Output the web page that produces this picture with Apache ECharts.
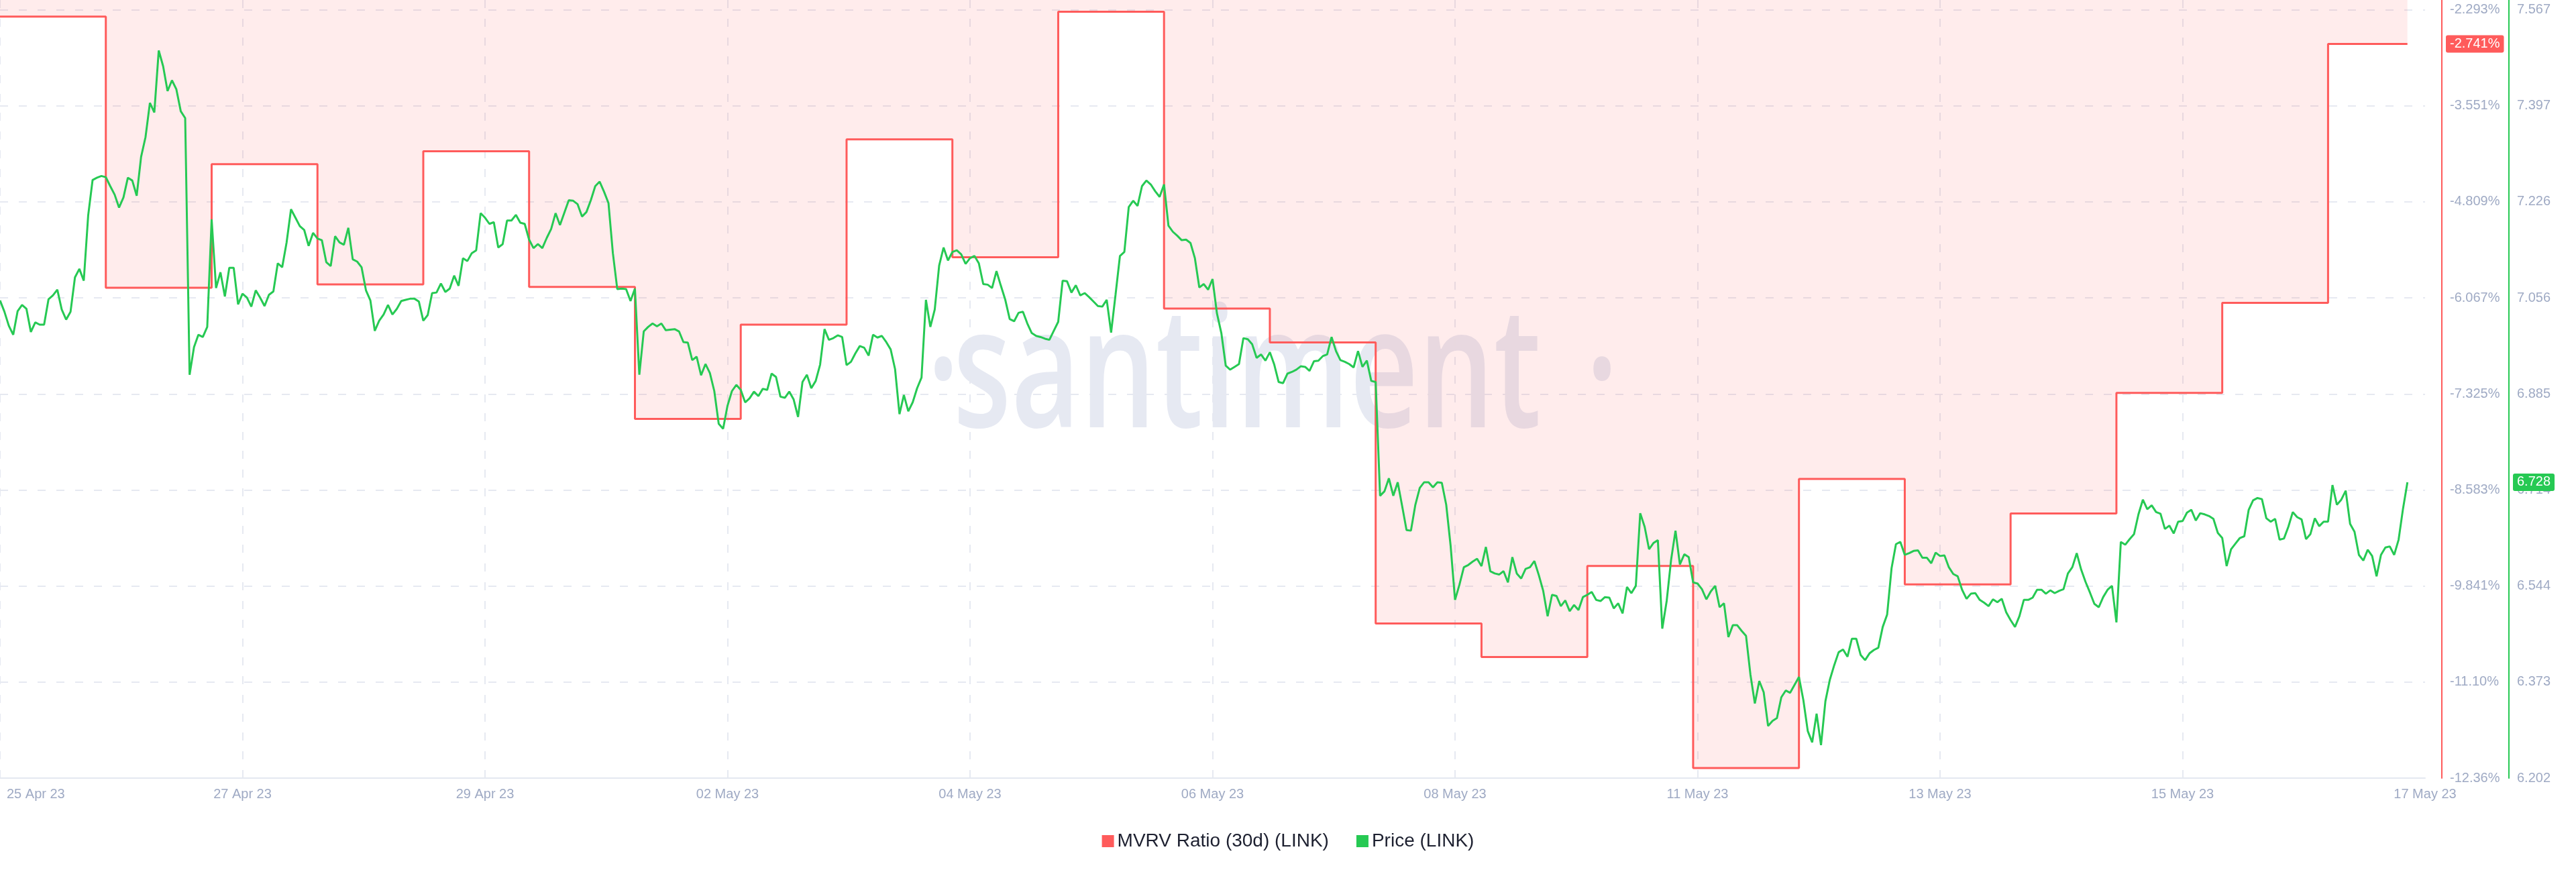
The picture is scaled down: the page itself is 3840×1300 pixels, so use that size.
<!DOCTYPE html>
<html>
<head>
<meta charset="utf-8">
<script src="https://cdn.jsdelivr.net/npm/echarts/dist/echarts.min.js"></script>
<style>
html,body{margin:0;padding:0;background:#ffffff;}
#chart{width:3840px;height:1300px;}
</style>
</head>
<body>
<div id="chart"></div>
<script>
// ---------- data ----------
// x axis: hours since series start; tick every 55 hours
const xTickLabels = ['25 Apr 23','27 Apr 23','29 Apr 23','02 May 23','04 May 23','06 May 23',
                     '08 May 23','11 May 23','13 May 23','15 May 23','17 May 23'];
const tickHours = 55;
const hoursPerDay = 24;

// MVRV Ratio (30d) (LINK), one value per day (percent)
const mvrvDaily = [-2.384, -5.935, -4.316, -5.890, -4.147, -5.923, -7.653, -6.418,
                   -3.990, -5.536, -2.319, -6.208, -6.650, -10.332, -10.771, -9.579,
                   -12.226, -8.439, -9.821, -8.891, -7.312, -6.132, -2.741];

// Price (LINK), hourly values (USD)
const priceLink = [
 7.051,7.031,7.006,6.990,7.032,7.043,7.036,6.995,7.012,7.008,
 7.008,7.053,7.060,7.070,7.035,7.017,7.031,7.092,7.107,7.086,
 7.202,7.265,7.269,7.272,7.270,7.254,7.239,7.216,7.234,7.269,
 7.264,7.237,7.306,7.341,7.402,7.385,7.495,7.467,7.423,7.442,
 7.426,7.387,7.375,6.919,6.968,6.990,6.986,7.004,7.195,7.073,
 7.101,7.058,7.109,7.109,7.044,7.063,7.056,7.040,7.069,7.056,
 7.041,7.061,7.067,7.117,7.110,7.154,7.213,7.198,7.183,7.176,
 7.148,7.171,7.161,7.158,7.119,7.112,7.165,7.154,7.150,7.180,
 7.124,7.120,7.110,7.069,7.051,6.997,7.015,7.026,7.043,7.026,
 7.036,7.050,
 7.052,7.054,7.054,7.049,7.015,7.025,7.064,7.065,7.081,7.066,
 7.072,7.095,7.077,7.126,7.121,7.135,7.140,7.206,7.198,7.187,
 7.190,7.145,7.151,7.193,7.193,7.203,7.189,7.187,7.159,7.144,
 7.151,7.144,7.162,7.178,7.206,7.185,7.207,7.229,7.228,7.222,
 7.200,7.208,7.229,7.254,7.262,7.244,7.224,7.135,7.071,7.072,
 7.071,7.050,7.072,6.919,6.996,7.004,7.010,7.005,7.010,6.998,
 6.999,7.000,6.996,6.977,6.976,6.945,6.951,6.918,6.938,6.922,
 6.890,6.832,6.823,6.864,6.890,6.901,6.892,6.870,6.877,6.889,
 6.881,6.894,6.892,6.921,6.915,6.880,6.878,6.889,6.875,6.844,
 6.906,6.919,6.895,
 6.908,6.937,7.000,6.981,6.984,6.989,6.986,6.936,6.942,6.957,
 6.970,6.967,6.953,6.990,6.985,6.988,6.977,6.964,6.929,6.849,
 6.883,6.854,6.870,6.895,6.914,7.052,7.004,7.035,7.113,7.145,
 7.122,7.137,7.140,7.133,7.116,7.126,7.130,7.117,7.080,7.079,
 7.073,7.103,7.077,7.052,7.018,7.014,7.029,7.031,7.010,6.993,
 6.988,6.986,6.983,6.981,6.997,7.013,7.086,7.085,7.065,7.078,
 7.060,7.064,7.057,7.049,7.041,7.040,7.052,6.994,7.061,7.130,
 7.137,7.217,7.228,7.219,7.254,7.264,7.257,7.245,7.235,7.257,
 7.184,7.173,7.166,7.158,7.159,7.153,7.126,7.074,7.080,7.070,
 7.089,
 7.028,6.993,6.935,6.928,6.933,6.938,6.984,6.982,6.973,6.949,
 6.955,6.944,6.959,6.937,6.906,6.904,6.921,6.924,6.928,6.934,
 6.933,6.926,6.943,6.944,6.952,6.955,6.986,6.961,6.945,6.942,
 6.938,6.932,6.961,6.933,6.944,6.908,6.906,6.704,6.712,6.735,
 6.704,6.728,6.686,6.643,6.642,6.688,6.718,6.728,6.728,6.719,
 6.728,6.727,6.688,6.615,6.519,6.546,6.577,6.581,6.587,6.592,
 6.579,6.613,6.570,6.566,6.564,6.570,6.550,6.595,6.566,6.557,
 6.574,6.577,6.588,6.563,6.535,6.490,6.528,6.526,6.508,6.518,
 6.499,6.510,6.501,6.524,6.528,6.533,6.519,6.517,6.524,6.523,
 6.504,
 6.513,6.495,6.542,6.531,6.544,6.673,6.649,6.609,6.620,6.625,
 6.468,6.517,6.590,6.642,6.582,6.600,6.595,6.550,6.548,6.538,
 6.520,6.534,6.544,6.506,6.513,6.453,6.474,6.474,6.464,6.455,
 6.386,6.335,6.375,6.355,6.295,6.304,6.309,6.346,6.358,6.354,
 6.368,6.382,6.341,6.286,6.266,6.317,6.261,6.339,6.377,6.403,
 6.426,6.431,6.418,6.450,6.450,6.421,6.412,6.424,6.430,6.434,
 6.471,6.493,6.575,6.618,6.622,6.599,6.602,6.606,6.607,6.594,
 6.594,6.584,6.603,6.597,6.598,6.577,6.565,6.561,6.537,6.521,
 6.530,6.531,6.519,6.514,6.508,6.520,6.515,6.521,6.497,6.483,
 6.471,
 6.490,6.519,6.519,6.523,6.537,6.537,6.530,6.536,6.531,6.535,
 6.538,6.566,6.577,6.602,6.573,6.551,6.532,6.512,6.506,6.524,
 6.537,6.544,6.479,6.622,6.617,6.627,6.636,6.671,6.697,6.680,
 6.687,6.675,6.672,6.645,6.651,6.637,6.658,6.659,6.674,6.679,
 6.660,6.673,6.671,6.668,6.663,6.638,6.629,6.579,6.609,6.619,
 6.629,6.632,6.679,6.696,6.700,6.698,6.664,6.658,6.663,6.626,
 6.628,6.649,6.675,6.666,6.662,6.627,6.636,6.664,6.650,6.658,
 6.658,6.723,6.688,6.697,6.713,6.654,6.640,6.599,6.589,6.608,
 6.597,6.561,6.599,6.612,6.614,6.599,6.626,6.681,6.728
];

// axis scales (tick labels)
const mvrvAxis  = { min: -12.357, interval: 1.258, max: -2.1656 };
const priceAxis = { min: 6.20244, interval: 0.170625, max: 7.5847 };
const xAxisMax = 550;

// ---------- build ----------
const RED = '#ff5b5b', GREEN = '#26c953', TXT = '#9faac4', GRIDC = '#e6e9f1';
const FONT = '"Liberation Sans", Arial, Helvetica, sans-serif';
const lastHour = priceLink.length - 1;
const mvrvPoints = mvrvDaily.map((v, k) => [k * hoursPerDay, v]);
mvrvPoints.push([lastHour, mvrvDaily[mvrvDaily.length - 1]]);
const pricePoints = priceLink.map((v, i) => [i, v]);

const wmStyle = { fill: '#e6e9f2', fontSize: 250, fontWeight: 600, fontFamily: '"Open Sans"',
                  textAlign: 'center', textVerticalAlign: 'middle' };

const chart = echarts.init(document.getElementById('chart'), null, { renderer: 'canvas' });
const option = {
  animation: false,
  backgroundColor: '#ffffff',
  textStyle: { fontFamily: FONT },
  grid: { left: 0, right: 225, top: 0, bottom: 140, containLabel: false, outerBoundsMode: 'none' },
  graphic: [
    { type: 'text', z: -1, x: 1859, y: 566, scaleX: 0.71, style: Object.assign({ text: 'santiment' }, wmStyle) },
    { type: 'text', z: -1, x: 1406, y: 566, scaleX: 0.71, style: Object.assign({ text: '·' }, wmStyle) },
    { type: 'text', z: -1, x: 2388, y: 566, scaleX: 0.71, style: Object.assign({ text: '·' }, wmStyle) }
  ],
  legend: {
    top: 1235, left: 'center', icon: 'rect', itemWidth: 18, itemHeight: 18, itemGap: 41,
    textStyle: { fontSize: 28, color: '#1d2030', fontFamily: FONT },
    data: ['MVRV Ratio (30d) (LINK)', 'Price (LINK)']
  },
  xAxis: {
    type: 'value', min: 0, max: xAxisMax, interval: tickHours,
    axisLine: { show: true, onZero: false, lineStyle: { color: '#e4e8f0', width: 2 } },
    axisTick: { show: false },
    axisLabel: {
      color: TXT, fontSize: 20, margin: 14, hideOverlap: false,
      alignMinLabel: 'left',
      formatter: v => {
        const k = Math.round(v / tickHours);
        const s = xTickLabels[k] || '';
        return k === 0 ? '{a|' + s + '}' : s;
      },
      rich: { a: { padding: [0, 0, 0, 10], color: TXT, fontSize: 20, fontFamily: FONT } }
    },
    splitLine: { show: true, showMaxLine: false, lineStyle: { color: GRIDC, width: 2, type: [12, 16] } }
  },
  yAxis: [
    {
      type: 'value', position: 'right', offset: 25, min: mvrvAxis.min, max: mvrvAxis.max, interval: mvrvAxis.interval,
      axisLine: { show: true, onZero: false, lineStyle: { color: RED, width: 2 } },
      axisTick: { show: false },
      axisLabel: { color: TXT, fontSize: 20, margin: 12, showMaxLabel: false, hideOverlap: false,
                   formatter: v => v.toPrecision(4) + '%' },
      splitLine: { show: true, showMaxLine: false, lineStyle: { color: GRIDC, width: 2, type: [12, 16] } },
      axisPointer: {
        show: true, type: 'line', value: mvrvDaily[mvrvDaily.length - 1], status: 'show',
        snap: false, triggerTooltip: false, lineStyle: { opacity: 0 }, handle: { show: false },
        label: { show: true, margin: 6, backgroundColor: RED, color: '#ffffff', fontSize: 20,
                 fontFamily: FONT, padding: [3, 6, 3, 6],
                 formatter: p => Number(p.value).toFixed(3) + '%' }
      }
    },
    {
      type: 'value', position: 'right', offset: 125, min: priceAxis.min, max: priceAxis.max, interval: priceAxis.interval,
      axisLine: { show: true, onZero: false, lineStyle: { color: GREEN, width: 2 } },
      axisTick: { show: false },
      axisLabel: { color: TXT, fontSize: 20, margin: 12, showMaxLabel: false, hideOverlap: false,
                   formatter: v => v.toFixed(3) },
      splitLine: { show: false },
      axisPointer: {
        show: true, type: 'line', value: priceLink[lastHour], status: 'show',
        snap: false, triggerTooltip: false, lineStyle: { opacity: 0 }, handle: { show: false },
        label: { show: true, margin: 6, backgroundColor: GREEN, color: '#ffffff', fontSize: 20,
                 fontFamily: FONT, padding: [3, 6, 3, 6],
                 formatter: p => Number(p.value).toFixed(3) }
      }
    }
  ],
  series: [
    {
      name: 'MVRV Ratio (30d) (LINK)', type: 'line', step: 'end', yAxisIndex: 0,
      data: mvrvPoints, showSymbol: false, symbol: 'none', z: 2,
      lineStyle: { color: RED, width: 3 }, itemStyle: { color: RED },
      areaStyle: { color: 'rgba(255,91,91,0.16)', origin: 'end' }
    },
    {
      name: 'Price (LINK)', type: 'line', yAxisIndex: 1,
      data: pricePoints, showSymbol: false, symbol: 'none', z: 3,
      lineStyle: { color: GREEN, width: 3 }, itemStyle: { color: GREEN }
    }
  ]
};
chart.setOption(option);
</script>
</body>
</html>
